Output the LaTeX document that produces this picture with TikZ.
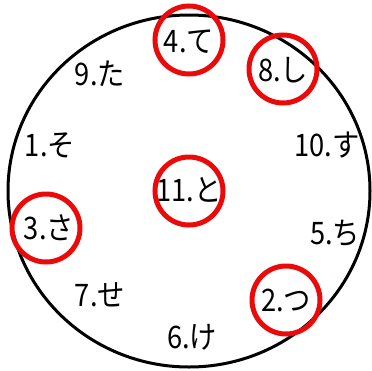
\documentclass[tikz,border=0pt]{standalone}
\usepackage{fontspec}
\newfontfamily\jp{Noto Sans CJK JP}
\definecolor{ringred}{RGB}{235,10,10}
\begin{document}
\begin{tikzpicture}[x=1pt,y=-1pt,
  lbl/.style={font=\jp\fontsize{31}{33}\selectfont, inner sep=0pt, xscale=0.88},
  ring/.style={draw=ringred, line width=5pt, circle, minimum size=68pt, inner sep=0pt}]
\useasboundingbox (0,0) rectangle (372,370);
\draw[line width=3pt] (189,191) ellipse [x radius=181, y radius=176];
\node[lbl] (n4) at (189,42) {4.て};
\node[lbl] (n9) at (100,74) {9.た};
\node[lbl] (n8) at (283,70) {8.し};
\node[lbl] (n1) at (50,145) {1.そ};
\node[lbl] (n10) at (327,145) {10.す};
\node[lbl] (n11) at (189,190) {11.と};
\node[lbl] (n3) at (49,228) {3.さ};
\node[lbl] (n5) at (335,233) {5.ち};
\node[lbl] (n7) at (100,295) {7.せ};
\node[lbl] (n2) at (286,300) {2.つ};
\node[lbl] (n6) at (192,337) {6.け};
\node[ring] (r4) at (189,40) {};
\node[ring] (r8) at (283,69) {};
\node[ring] (r11) at (189,191) {};
\node[ring] (r3) at (46,228) {};
\node[ring] (r2) at (286,300) {};
\end{tikzpicture}
\end{document}
